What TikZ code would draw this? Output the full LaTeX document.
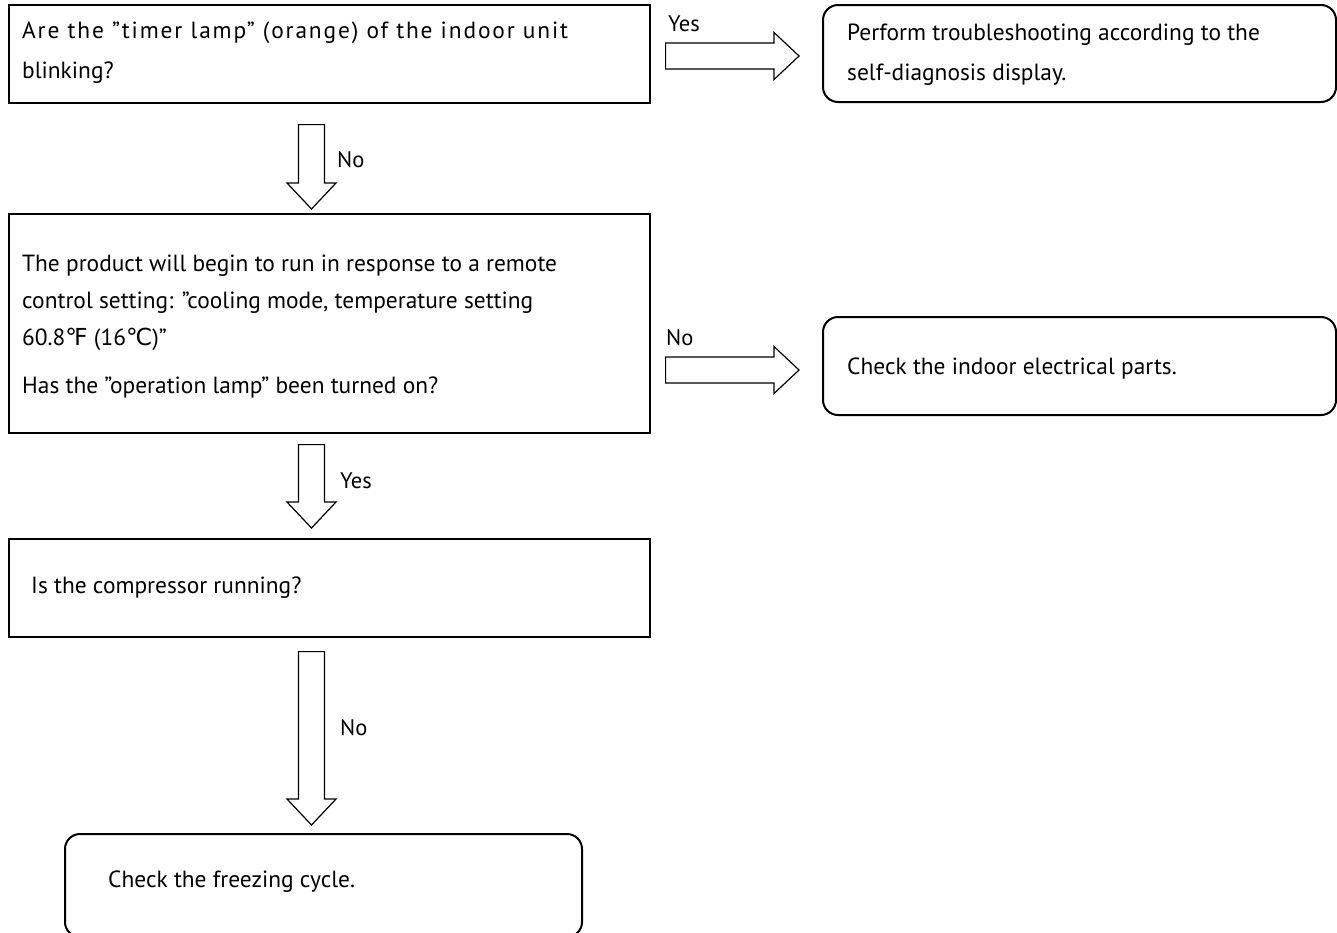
\documentclass[tikz,border=0pt]{standalone}
\usepackage{fontspec}
\setmainfont{PT Sans}
\newfontfamily\symfont{DejaVu Sans}
\usetikzlibrary{calc}
\newcommand\dq{{\char34}}
\tikzset{
  qbox/.style={draw, line width=1.6pt, rectangle, inner sep=0pt, anchor=north west},
  rbox/.style={draw, line width=2pt, rectangle, rounded corners=15pt, inner sep=0pt, anchor=north west},
  txt/.style={anchor=west, align=left, inner sep=0pt, font=\fontsize{23.4}{40}\selectfont},
  barrow/.style={draw, line width=1.2pt, fill=white, line join=miter},
  lbl/.style={anchor=base west, inner sep=0pt, font=\fontsize{22.5}{24}\selectfont},
}
\newcommand\myDownBlock[2]{\draw[barrow] let \p1=#1, \p2=#2 in
  (\x1-13pt,\y1) -- (\x1+13pt,\y1) -- (\x1+13pt,\y2+26pt) -- (\x1+24.5pt,\y2+26pt)
  -- (\x1,\y2) -- (\x1-24.5pt,\y2+26pt) -- (\x1-13pt,\y2+26pt) -- cycle;}
\newcommand\myRightBlock[2]{\draw[barrow] let \p1=#1, \p2=#2 in
  (\x1,\y1+13pt) -- (\x2-25pt,\y1+13pt) -- (\x2-25pt,\y1+23.5pt) -- (\x2,\y1)
  -- (\x2-25pt,\y1-23.5pt) -- (\x2-25pt,\y1-13pt) -- (\x1,\y1-13pt) -- cycle;}
\begin{document}
\begin{tikzpicture}[x=1pt,y=-1pt]
\useasboundingbox (0,0) rectangle (1337,932);
% boxes
\node[qbox, minimum width=641pt, minimum height=98pt] (q1) at (8,4) {};
\node[rbox, minimum width=513pt, minimum height=97pt] (r1) at (822,4) {};
\node[qbox, minimum width=641pt, minimum height=219pt] (q3) at (8,213) {};
\node[rbox, minimum width=513pt, minimum height=98pt] (r2) at (822,316) {};
\node[qbox, minimum width=641pt, minimum height=98pt] (q5) at (8,538) {};
\node[rbox, minimum width=517pt, minimum height=103pt] (r3) at (64,833) {};
% texts
\node[txt] (t1) at (22,53) {{\addfontfeature{LetterSpace=8}Are the \dq timer lamp\dq{} (orange) of the indoor unit}\\blinking?};
\node[txt] (t2) at (847,55) {Perform troubleshooting according to the\\self-diagnosis display.};
\node[txt, font=\fontsize{23.4}{37}\selectfont] (t3) at (22,327) {The product will begin to run in response to a remote\\control setting: \dq cooling mode, temperature setting\\ 60.8{\symfont ℉} (16{\symfont ℃})\dq\\[11pt]Has the \dq operation lamp\dq{} been turned on?};
\node[txt] (t4) at (847,369) {Check the indoor electrical parts.};
\node[txt] (t5) at (31,588) {Is the compressor running?};
\node[txt] (t6) at (108,882) {Check the freezing cycle.};
% block arrows
\coordinate (a1s) at ($(q1.south west)+(303.5,21)$);
\coordinate (a1t) at ($(q3.north west)+(303.5,-4)$);
\myDownBlock{(a1s)}{(a1t)}
\coordinate (a2s) at ($(q3.south west)+(303.5,11)$);
\coordinate (a2t) at ($(q5.north west)+(303.5,-10)$);
\myDownBlock{(a2s)}{(a2t)}
\coordinate (a3s) at ($(q5.south west)+(303.5,14)$);
\coordinate (a3t) at ($(r3.north west)+(247.5,-8)$);
\myDownBlock{(a3s)}{(a3t)}
\coordinate (h1s) at ($(q1.north east)+(15,52)$);
\coordinate (h1t) at ($(r1.north west)+(-23,52)$);
\myRightBlock{(h1s)}{(h1t)}
\coordinate (h2s) at ($(q3.north east)+(15,157)$);
\coordinate (h2t) at ($(r2.north west)+(-23,54)$);
\myRightBlock{(h2s)}{(h2t)}
% labels
\node[lbl] (l1) at (668,31) {Yes};
\node[lbl] (l2) at (337,167) {No};
\node[lbl] (l3) at (666,345) {No};
\node[lbl] (l4) at (340,488) {Yes};
\node[lbl] (l5) at (340,735) {No};
\end{tikzpicture}
\end{document}
